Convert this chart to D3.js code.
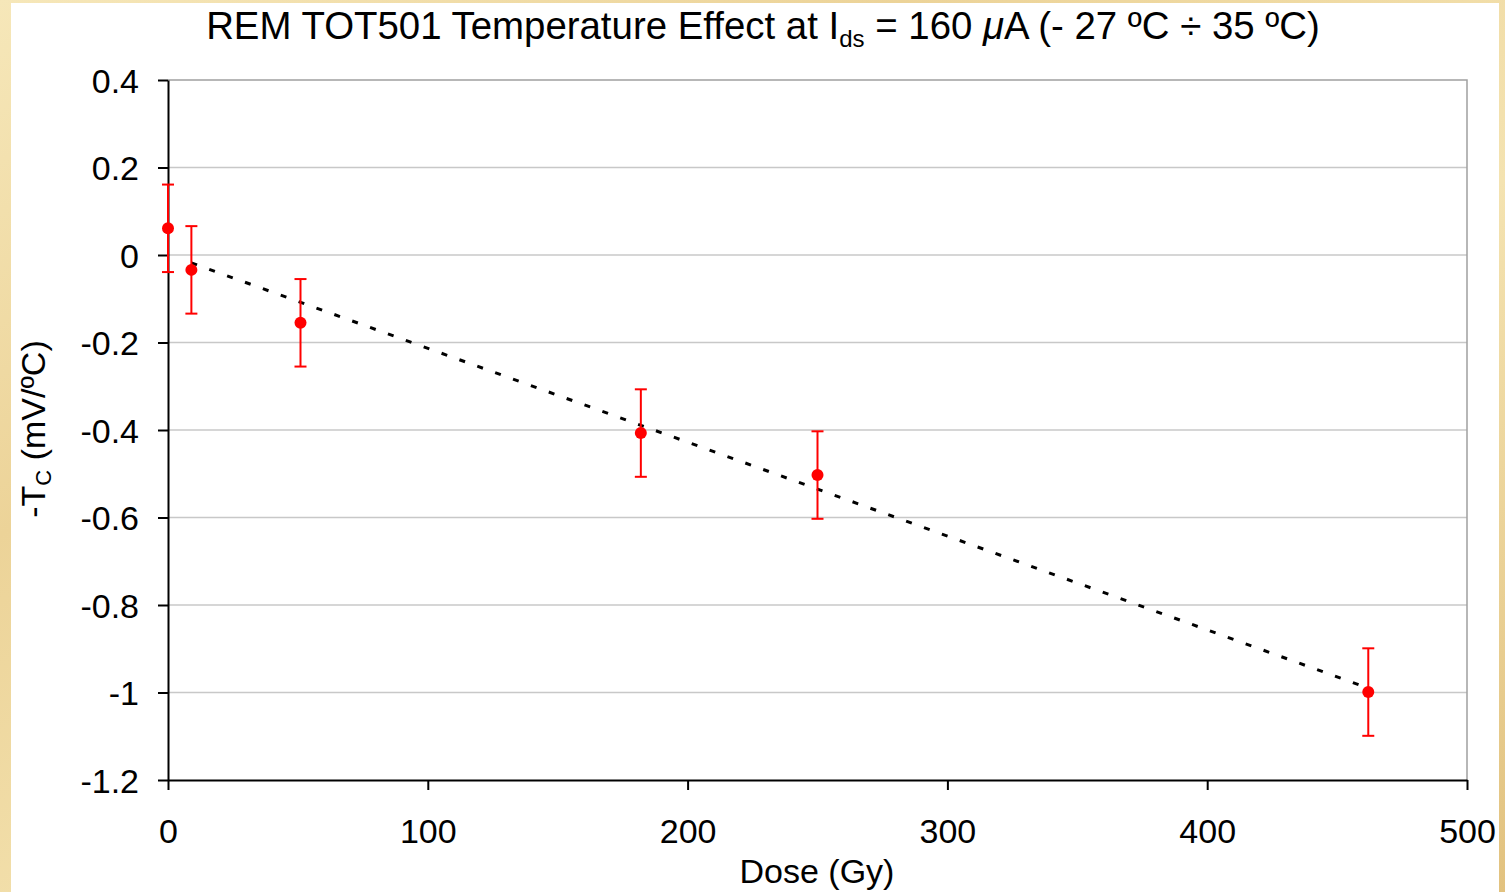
<!DOCTYPE html>
<html>
<head>
<meta charset="utf-8">
<script src="https://cdn.jsdelivr.net/npm/d3@7"></script>
<style>
  html, body { margin: 0; padding: 0; background: #f1dfa8; }
  svg { display: block; }
  text { font-family: "Liberation Sans", Arial, sans-serif; fill: #000; }
</style>
</head>
<body>
<svg id="chart" width="1505" height="892"></svg>
<script>
// data
var dose = [0, 9, 51, 182, 250, 462];
var tc = [0.061, -0.034, -0.155, -0.407, -0.503, -0.999];
var errTc = [0.1, 0.1, 0.1, 0.1, 0.1, 0.1];
// dotted trend line end points
var trendDose = [9, 462];
var trendTc = [-0.018, -0.99];
var xTicks = [0, 100, 200, 300, 400, 500];
var yTicks = [0.4, 0.2, 0, -0.2, -0.4, -0.6, -0.8, -1, -1.2];

var svg = d3.select("#chart");
var W = 1505, H = 892;

// parchment background
var defs = svg.append("defs");
var grad = defs.append("linearGradient").attr("id", "parch")
    .attr("x1", "0").attr("y1", "0").attr("x2", "1").attr("y2", "1");
grad.append("stop").attr("offset", "0%").attr("stop-color", "#f6e7b9");
grad.append("stop").attr("offset", "30%").attr("stop-color", "#ecd398");
grad.append("stop").attr("offset", "60%").attr("stop-color", "#f4e3b1");
grad.append("stop").attr("offset", "100%").attr("stop-color", "#e2c27f");
svg.append("rect").attr("width", W).attr("height", H).attr("fill", "url(#parch)");

// white chart area
svg.append("rect").attr("x", 11).attr("y", 3).attr("width", 1488).attr("height", H - 3)
    .attr("fill", "#fff");

var plotLeft = 168, plotRight = 1467, plotTop = 80, plotBottom = 780;

var x = d3.scaleLinear().domain([0, 500]).range([plotLeft, plotRight]);
var y = d3.scaleLinear().domain([-1.2, 0.4]).range([plotBottom, plotTop]);

// gridlines
svg.append("g").selectAll("line").data(yTicks.filter(function(d) { return d > -1.2 && d < 0.4; }))
    .enter().append("line")
    .attr("x1", plotLeft).attr("x2", plotRight)
    .attr("y1", function(d) { return y(d); })
    .attr("y2", function(d) { return y(d); })
    .attr("stroke", "#c8c8c8").attr("stroke-width", 1.5);

// plot border top and right
svg.append("path")
    .attr("d", "M" + plotLeft + "," + y(0.4) + "H" + plotRight + "V" + plotBottom)
    .attr("fill", "none").attr("stroke", "#a0a0a0").attr("stroke-width", 1.5);

// axes
var xAxis = d3.axisBottom(x).tickValues(xTicks).tickSize(10).tickSizeOuter(0).tickPadding(29)
    .tickFormat(d3.format("d"));
var gx = svg.append("g").attr("transform", "translate(0," + plotBottom + ")").call(xAxis);
gx.select(".domain").attr("stroke", "#000").attr("stroke-width", 2);
gx.selectAll(".tick line").attr("stroke", "#000").attr("stroke-width", 2);
gx.selectAll("text").style("font-size", "34px");

var yAxis = d3.axisLeft(y).tickValues(yTicks).tickSize(10).tickSizeOuter(0).tickPadding(19)
    .tickFormat(function(d) { return String(+d.toFixed(1)); });
var gy = svg.append("g").attr("transform", "translate(" + plotLeft + ",0)").call(yAxis);
gy.select(".domain").attr("stroke", "#000").attr("stroke-width", 2);
gy.selectAll(".tick line").attr("stroke", "#000").attr("stroke-width", 2);
gy.selectAll("text").style("font-size", "34px").attr("dy", "0.36em");

// trend line
var line = d3.line().x(function(d) { return x(d[0]); }).y(function(d) { return y(d[1]); });
svg.append("path").datum(d3.zip(trendDose, trendTc))
    .attr("d", line)
    .attr("fill", "none").attr("stroke", "#000").attr("stroke-width", 3)
    .attr("stroke-dasharray", "6,13");

// error bars
var pts = d3.zip(dose, tc, errTc);
var eb = svg.append("g").attr("stroke", "#ff0000").attr("stroke-width", 2);
eb.selectAll(".v").data(pts).enter().append("line")
    .attr("x1", function(d) { return x(d[0]); }).attr("x2", function(d) { return x(d[0]); })
    .attr("y1", function(d) { return y(d[1] + d[2]); })
    .attr("y2", function(d) { return y(d[1] - d[2]); });
[1, -1].forEach(function(s) {
  eb.selectAll(".c" + s).data(pts).enter().append("line")
    .attr("x1", function(d) { return x(d[0]) - 6; }).attr("x2", function(d) { return x(d[0]) + 6; })
    .attr("y1", function(d) { return y(d[1] + s * d[2]); })
    .attr("y2", function(d) { return y(d[1] + s * d[2]); });
});

// markers
svg.append("g").selectAll("circle").data(pts).enter().append("circle")
    .attr("cx", function(d) { return x(d[0]); })
    .attr("cy", function(d) { return y(d[1]); })
    .attr("r", 6).attr("fill", "#ff0000");

// title
var t = svg.append("text").attr("x", 763).attr("y", 39).attr("text-anchor", "middle")
    .style("font-size", "38.4px");
t.append("tspan").text("REM TOT501 Temperature Effect at I");
t.append("tspan").attr("dy", 8).style("font-size", "24px").text("ds");
t.append("tspan").attr("dy", -8).text(" = 160 ");
t.append("tspan").style("font-style", "italic").text("\u03bc");
t.append("tspan").text("A (- 27 \u00baC \u00f7 35 \u00baC)");

// x label
svg.append("text").attr("x", 817).attr("y", 883).attr("text-anchor", "middle")
    .style("font-size", "34px").text("Dose (Gy)");

// y label
var yl = svg.append("text").attr("transform", "translate(45,429) rotate(-90)")
    .attr("text-anchor", "middle").style("font-size", "34px");
yl.append("tspan").text("-T");
yl.append("tspan").attr("dy", 6).style("font-size", "22px").text("C");
yl.append("tspan").attr("dy", -6).text(" (mV/\u00baC)");
</script>
</body>
</html>
